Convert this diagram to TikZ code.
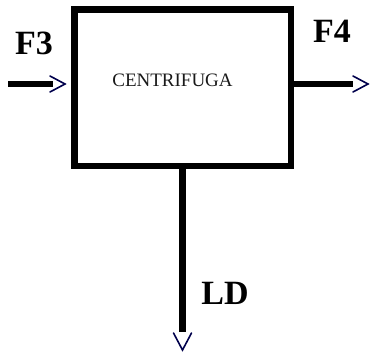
\documentclass[tikz,border=0pt]{standalone}
\usepackage{fontspec}
\setmainfont{Liberation Serif}
\begin{document}
\begin{tikzpicture}[x=1pt,y=-1pt,
  flow/.style={line width=6.5pt,black},
  chev/.style={line width=1.6pt,draw=black!70!blue,line join=miter,line cap=round},
  boxst/.style={draw,line width=6.5pt,rectangle,minimum width=216.5pt,minimum height=156.5pt,inner sep=0pt},
  lbl/.style={font=\fontsize{34}{34}\selectfont\bfseries,inner sep=0pt,text=black},
  cname/.style={font=\fontsize{19}{19}\selectfont,inner sep=0pt,text=black!90}]
\useasboundingbox (0,0) rectangle (371,356);
\node[boxst] (box) at (182.75,87.75) {};
\node[cname] (cn) at (172.5,80.5) {CENTRIFUGA};
\coordinate (a) at (8,84);
\coordinate (ae) at (53,84);
\coordinate (at) at (65,84);
\coordinate (be) at (353,84);
\coordinate (bt) at (368,84);
\coordinate (ce) at (182.5,332);
\coordinate (ct) at (182.5,350);
\draw[flow] (a) -- (ae);
\draw[chev] (at) ++(-15,-8) -- (at) -- ++(-15,8);
\draw[flow] (box.east |- be) -- (be);
\draw[chev] (bt) ++(-15,-8) -- (bt) -- ++(-15,8);
\draw[flow] (box.south -| ce) -- (ce);
\draw[chev] (ct) ++(-9,-17) -- (ct) -- ++(9,-17);
\node[lbl] (f3) at (34,43.5) {F3};
\node[lbl] (f4) at (332,31.5) {F4};
\node[lbl] (ld) at (225,293.5) {LD};
\end{tikzpicture}
\end{document}
